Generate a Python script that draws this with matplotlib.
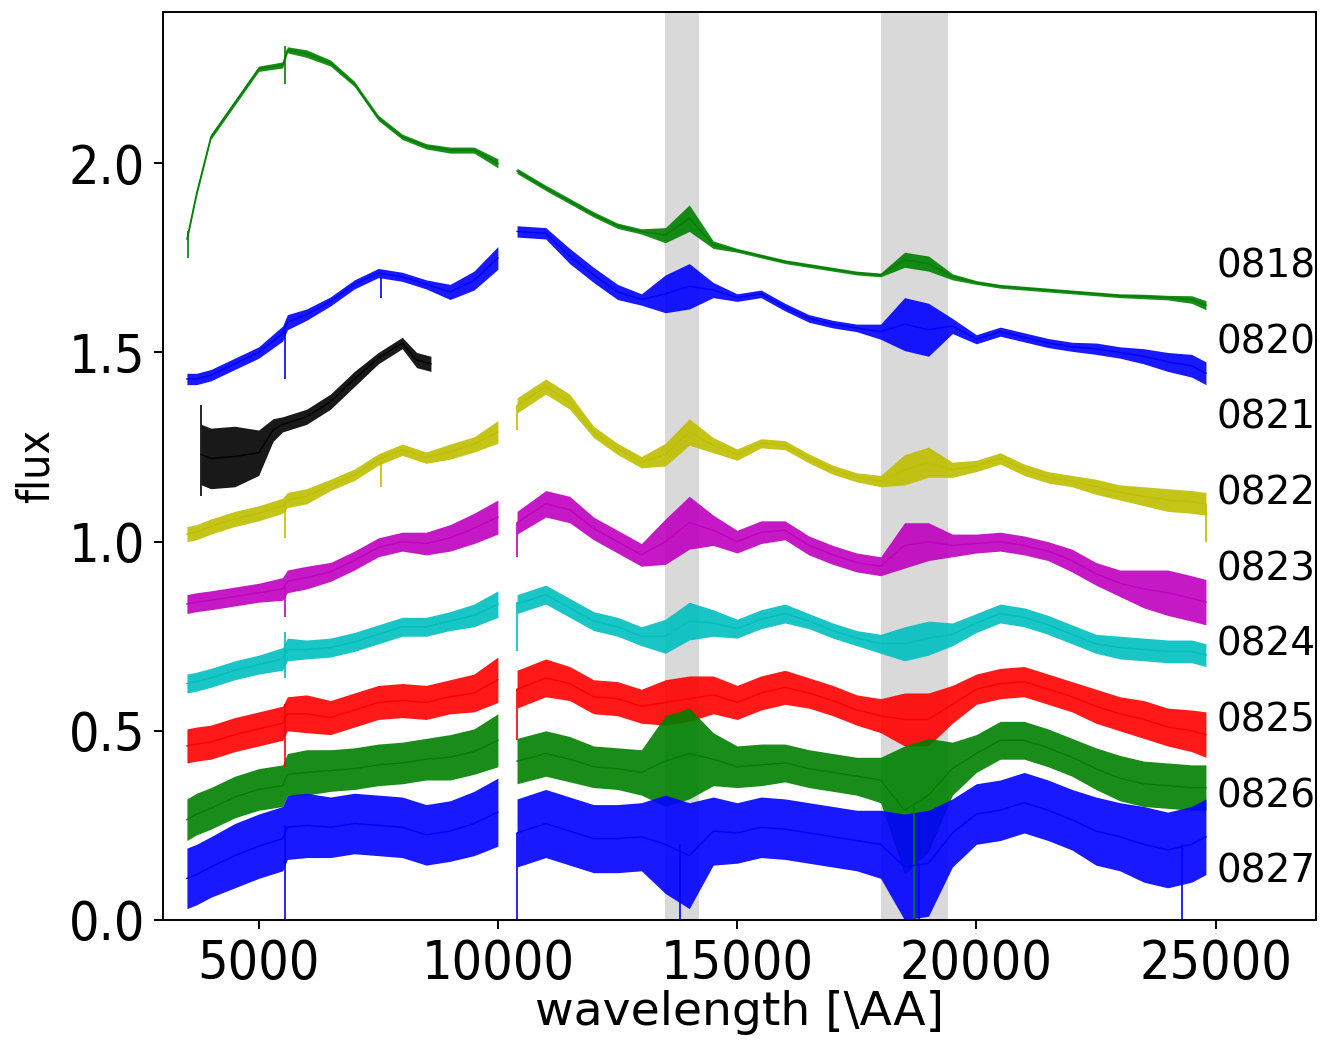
import numpy as np
import matplotlib
matplotlib.use("Agg")
from matplotlib import pyplot as plt

# common wavelength sampling (Angstrom), blue arm then red arm
wave = [3500, 3700, 4000, 4500, 5000, 5500, 5600, 6000, 6500, 7000, 7500, 8000, 8500, 9000, 9500, 10000,
        10400, 11000, 11500, 12000, 12500, 13000, 13500, 14000, 14500, 15000, 15500, 16000,
        16500, 17000, 17500, 18000, 18500, 19000, 19500, 20000, 20500, 21000, 21500, 22000,
        22500, 23000, 23500, 24000, 24500, 24800]
wave_0821 = [3800, 4000, 4500, 5000, 5300, 5500, 6000, 6500, 7000, 7500, 8000, 8300, 8600]

names = ["0818", "0820", "0821", "0822", "0823", "0824", "0825", "0826", "0827"]
colors = ["g", "b", "k", "y", "m", "c", "r", "g", "b"]
label_y = [1.727, 1.527, 1.327, 1.127, 0.927, 0.727, 0.527, 0.327, 0.127]

flux_0818 = [1.80, 1.92, 2.07, 2.16, 2.25, 2.26, 2.30, 2.29, 2.265, 2.21, 2.12, 2.07, 2.045, 2.035, 2.035, 2.00,
             1.98, 1.935, 1.90, 1.865, 1.835, 1.82, 1.81, 1.855, 1.785, 1.77, 1.755, 1.74, 1.73, 1.72,
             1.71, 1.705, 1.745, 1.735, 1.70, 1.685, 1.675, 1.67, 1.665, 1.66, 1.655, 1.65, 1.648,
             1.645, 1.64, 1.625]
err_0818 = [0.008, 0.008, 0.007, 0.007, 0.007, 0.008, 0.008, 0.01, 0.008, 0.007, 0.007, 0.007, 0.007, 0.008, 0.008, 0.012,
            0.007, 0.007, 0.007, 0.007, 0.007, 0.007, 0.02, 0.035, 0.01, 0.005, 0.005, 0.005, 0.005, 0.005,
            0.005, 0.005, 0.02, 0.02, 0.008, 0.005, 0.005, 0.005, 0.005, 0.005, 0.005, 0.005, 0.006,
            0.006, 0.01, 0.012]

flux_0820 = [1.43, 1.43, 1.44, 1.47, 1.50, 1.55, 1.58, 1.60, 1.635, 1.68, 1.71, 1.70, 1.68, 1.66, 1.69, 1.75,
             1.82, 1.815, 1.755, 1.705, 1.66, 1.64, 1.655, 1.675, 1.665, 1.645, 1.655, 1.62, 1.59,
             1.575, 1.565, 1.555, 1.575, 1.56, 1.57, 1.535, 1.555, 1.54, 1.525, 1.515, 1.51, 1.50,
             1.49, 1.475, 1.465, 1.445]
err_0820 = [0.015, 0.015, 0.015, 0.015, 0.015, 0.02, 0.02, 0.015, 0.012, 0.012, 0.012, 0.012, 0.012, 0.02, 0.025, 0.03,
            0.015, 0.015, 0.02, 0.02, 0.02, 0.015, 0.05, 0.06, 0.02, 0.01, 0.01, 0.01, 0.01, 0.01,
            0.01, 0.02, 0.07, 0.07, 0.02, 0.012, 0.012, 0.012, 0.012, 0.012, 0.015, 0.015, 0.02,
            0.025, 0.03, 0.03]

flux_0821 = [1.23, 1.22, 1.225, 1.235, 1.295, 1.31, 1.33, 1.37, 1.43, 1.485, 1.525, 1.48, 1.47]
err_0821 = [0.08, 0.08, 0.08, 0.06, 0.03, 0.02, 0.02, 0.02, 0.02, 0.015, 0.015, 0.02, 0.02]

flux_0822 = [1.02, 1.025, 1.04, 1.06, 1.075, 1.095, 1.11, 1.12, 1.15, 1.177, 1.217, 1.243, 1.222, 1.238, 1.257, 1.29,
             1.36, 1.41, 1.37, 1.29, 1.245, 1.21, 1.23, 1.29, 1.255, 1.23, 1.26, 1.255, 1.22, 1.19,
             1.17, 1.16, 1.19, 1.21, 1.19, 1.20, 1.22, 1.19, 1.17, 1.16, 1.145, 1.13, 1.12, 1.11,
             1.105, 1.10]
err_0822 = [0.02, 0.02, 0.02, 0.02, 0.02, 0.02, 0.02, 0.02, 0.015, 0.015, 0.015, 0.015, 0.015, 0.02, 0.02, 0.03,
            0.02, 0.02, 0.02, 0.015, 0.015, 0.015, 0.03, 0.035, 0.02, 0.015, 0.012, 0.012, 0.012, 0.012,
            0.012, 0.015, 0.04, 0.04, 0.02, 0.015, 0.015, 0.015, 0.015, 0.015, 0.02, 0.02, 0.025,
            0.03, 0.03, 0.03]

flux_0823 = [0.835, 0.84, 0.845, 0.855, 0.865, 0.875, 0.895, 0.905, 0.92, 0.95, 0.985, 1.00, 0.995, 1.01, 1.035, 1.065,
             1.05, 1.10, 1.085, 1.035, 1.00, 0.965, 1.00, 1.05, 1.03, 1.00, 1.025, 1.03, 0.99, 0.965,
             0.945, 0.935, 0.99, 1.00, 0.99, 0.995, 1.00, 0.99, 0.975, 0.95, 0.915, 0.89, 0.875,
             0.865, 0.85, 0.84]
err_0823 = [0.025, 0.025, 0.025, 0.025, 0.025, 0.03, 0.03, 0.03, 0.025, 0.025, 0.025, 0.025, 0.03, 0.035, 0.04, 0.045,
            0.03, 0.035, 0.035, 0.03, 0.03, 0.03, 0.06, 0.07, 0.04, 0.03, 0.03, 0.025, 0.025, 0.025,
            0.025, 0.025, 0.06, 0.05, 0.03, 0.025, 0.025, 0.025, 0.025, 0.03, 0.03, 0.035, 0.05,
            0.06, 0.06, 0.06]

flux_0824 = [0.625, 0.63, 0.64, 0.66, 0.675, 0.69, 0.715, 0.715, 0.72, 0.735, 0.755, 0.775, 0.775, 0.79, 0.805, 0.835,
             0.835, 0.86, 0.825, 0.79, 0.775, 0.75, 0.75, 0.79, 0.785, 0.77, 0.795, 0.81, 0.79, 0.765,
             0.745, 0.73, 0.73, 0.745, 0.755, 0.785, 0.81, 0.80, 0.78, 0.755, 0.73, 0.72, 0.715,
             0.71, 0.71, 0.70]
err_0824 = [0.025, 0.025, 0.025, 0.025, 0.025, 0.03, 0.03, 0.025, 0.025, 0.025, 0.025, 0.025, 0.025, 0.025, 0.03, 0.035,
            0.025, 0.025, 0.025, 0.025, 0.025, 0.025, 0.045, 0.05, 0.035, 0.025, 0.025, 0.025, 0.02, 0.02,
            0.02, 0.025, 0.045, 0.045, 0.03, 0.025, 0.025, 0.025, 0.025, 0.025, 0.025, 0.03, 0.03,
            0.03, 0.03, 0.03]

flux_0825 = [0.46, 0.465, 0.47, 0.49, 0.505, 0.52, 0.545, 0.545, 0.535, 0.555, 0.575, 0.58, 0.575, 0.59, 0.60, 0.635,
             0.61, 0.64, 0.625, 0.59, 0.585, 0.565, 0.575, 0.585, 0.595, 0.575, 0.60, 0.615, 0.60, 0.58,
             0.555, 0.54, 0.53, 0.53, 0.57, 0.61, 0.625, 0.63, 0.61, 0.59, 0.565, 0.545, 0.53,
             0.51, 0.50, 0.49]
err_0825 = [0.045, 0.045, 0.045, 0.045, 0.045, 0.045, 0.045, 0.05, 0.045, 0.045, 0.045, 0.045, 0.045, 0.045, 0.05, 0.06,
            0.05, 0.05, 0.045, 0.045, 0.045, 0.045, 0.06, 0.06, 0.05, 0.045, 0.045, 0.045, 0.04, 0.04,
            0.04, 0.045, 0.07, 0.07, 0.05, 0.04, 0.04, 0.04, 0.04, 0.04, 0.045, 0.045, 0.05,
            0.05, 0.055, 0.06]

flux_0826 = [0.265, 0.28, 0.295, 0.325, 0.345, 0.355, 0.385, 0.39, 0.395, 0.40, 0.41, 0.415, 0.425, 0.43, 0.445, 0.475,
             0.42, 0.44, 0.425, 0.405, 0.40, 0.39, 0.42, 0.44, 0.425, 0.405, 0.41, 0.415, 0.40, 0.39,
             0.38, 0.37, 0.29, 0.33, 0.40, 0.44, 0.475, 0.475, 0.455, 0.43, 0.40, 0.375, 0.36,
             0.355, 0.35, 0.35]
err_0826 = [0.055, 0.055, 0.055, 0.055, 0.055, 0.055, 0.055, 0.06, 0.055, 0.055, 0.055, 0.055, 0.055, 0.06, 0.06, 0.07,
            0.06, 0.06, 0.06, 0.055, 0.055, 0.06, 0.12, 0.12, 0.07, 0.055, 0.055, 0.05, 0.05, 0.05,
            0.05, 0.06, 0.17, 0.15, 0.07, 0.05, 0.05, 0.05, 0.05, 0.05, 0.055, 0.06, 0.06,
            0.06, 0.06, 0.06]

flux_0827 = [0.11, 0.12, 0.14, 0.17, 0.195, 0.215, 0.245, 0.25, 0.245, 0.255, 0.25, 0.245, 0.225, 0.235, 0.255, 0.285,
             0.23, 0.255, 0.235, 0.215, 0.215, 0.22, 0.20, 0.17, 0.235, 0.23, 0.245, 0.24, 0.23, 0.22,
             0.21, 0.20, 0.14, 0.15, 0.23, 0.28, 0.29, 0.31, 0.29, 0.265, 0.235, 0.22, 0.20,
             0.185, 0.20, 0.22]
err_0827 = [0.08, 0.08, 0.08, 0.085, 0.085, 0.085, 0.085, 0.085, 0.08, 0.08, 0.08, 0.08, 0.08, 0.08, 0.085, 0.09,
            0.09, 0.09, 0.09, 0.09, 0.09, 0.09, 0.13, 0.14, 0.09, 0.08, 0.08, 0.08, 0.08, 0.08,
            0.08, 0.09, 0.14, 0.14, 0.09, 0.08, 0.08, 0.08, 0.08, 0.08, 0.09, 0.09, 0.1,
            0.1, 0.1, 0.1]

# isolated glitches: (wavelength, low flux, high flux)
spikes_0818 = [(3520, 1.75, 1.82), (5550, 2.21, 2.31)]
spikes_0820 = [(5550, 1.43, 1.56), (7560, 1.645, 1.70)]
spikes_0821 = [(3800, 1.12, 1.36)]
spikes_0822 = [(5550, 1.01, 1.10), (7560, 1.145, 1.21), (10400, 1.295, 1.36), (24800, 1.00, 1.10)]
spikes_0823 = [(5550, 0.80, 0.88), (10400, 0.96, 1.05)]
spikes_0824 = [(5550, 0.64, 0.76), (10400, 0.71, 0.84)]
spikes_0825 = [(5550, 0.405, 0.57), (10400, 0.476, 0.61)]
spikes_0826 = [(18700, 0.0, 0.3)]
spikes_0827 = [(5550, 0.0, 0.25), (10400, 0.0, 0.23), (13800, 0.0, 0.2), (18800, 0.0, 0.15),
               (24300, 0.0, 0.2)]

# telluric windows
telluric = [(13500, 14200), (18000, 19400)]

spectra = [
    (wave, flux_0818, err_0818, spikes_0818),
    (wave, flux_0820, err_0820, spikes_0820),
    (wave_0821, flux_0821, err_0821, spikes_0821),
    (wave, flux_0822, err_0822, spikes_0822),
    (wave, flux_0823, err_0823, spikes_0823),
    (wave, flux_0824, err_0824, spikes_0824),
    (wave, flux_0825, err_0825, spikes_0825),
    (wave, flux_0826, err_0826, spikes_0826),
    (wave, flux_0827, err_0827, spikes_0827),
]

fig = plt.figure(figsize=(13.21, 10.42), dpi=100)
ax = fig.add_axes([0.1234, 0.1171, 0.8728, 0.8714])

for lo, hi in telluric:
    ax.axvspan(lo, hi, color="0.85", lw=0, zorder=0)

for (w, f, e, sp), c, name, ly in zip(spectra, colors, names, label_y):
    w = np.array(w, dtype=float)
    f = np.array(f)
    e = np.array(e)
    # blue and red arms are plotted separately (gap around 1 micron)
    for m in (w <= 10000, w > 10000):
        if m.sum() < 2:
            continue
        ax.fill_between(w[m], f[m] - e[m], f[m] + e[m], color=c, lw=0, alpha=0.9)
        ax.plot(w[m], f[m], color=c, lw=1.0)
    for sw, slo, shi in sp:
        ax.vlines(sw, slo, shi, color=c, lw=1.2)
    ax.text(25020, ly, name, fontsize=28, ha="left", va="center")

ax.set_xlim(3000, 27100)
ax.set_ylim(0, 2.4)
ax.set_xticks([5000, 10000, 15000, 20000, 25000])
ax.set_yticks([0.0, 0.5, 1.0, 1.5, 2.0])
ax.tick_params(labelsize=38.5, length=6.5, width=1.4, pad=6.5)
for lab in ax.get_xticklabels() + ax.get_yticklabels():
    lab.set_fontstretch("condensed")
for s in ax.spines.values():
    s.set_linewidth(1.4)
ax.set_xlabel(r"wavelength [\AA]", fontsize=34, labelpad=0)
ax.set_ylabel("flux", fontsize=32, fontstretch="condensed", labelpad=8)

fig.savefig("out.png", dpi=100)
